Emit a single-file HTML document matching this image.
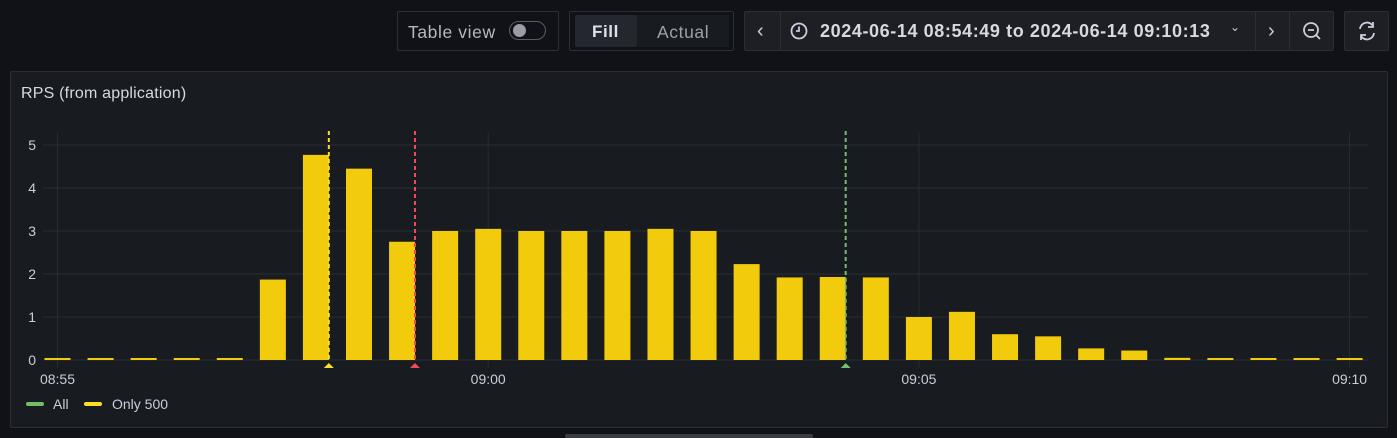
<!DOCTYPE html>
<html><head><meta charset="utf-8">
<style>
body{margin:0;width:1397px;height:437px;background:#111217;font-family:"Liberation Sans",sans-serif;overflow:hidden;position:relative;color:#ccccdc}
.box{position:absolute;border:1px solid #2c2e35;border-radius:2px;box-sizing:border-box}
.t{position:absolute;font-size:17px;white-space:nowrap;letter-spacing:0.6px}
</style></head><body>
<div class="box" style="left:397px;top:11px;width:162px;height:40px;background:#111217"></div>
<div class="t" style="left:408px;top:22px;color:#b5b7c2;font-size:17.5px">Table view</div>
<div style="position:absolute;left:509px;top:21px;width:37px;height:19px;border:1px solid #5a5d66;border-radius:10px;box-sizing:border-box"><div style="position:absolute;left:3px;top:2px;width:13px;height:13px;border-radius:7px;background:#9a9ca6"></div></div>
<div class="box" style="left:569px;top:11px;width:165px;height:40px;background:#111217"></div>
<div style="position:absolute;left:575px;top:15px;width:62px;height:32px;background:#25272e;border-radius:2px"></div>
<div class="t" style="left:592px;top:22px;color:#e0e1e8;font-weight:bold">Fill</div>
<div style="position:absolute;left:637px;top:15px;width:92px;height:32px;background:#181b1f"></div>
<div class="t" style="left:657px;top:22px;color:#9fa1ab;font-size:17.5px">Actual</div>
<div class="box" style="left:744px;top:11px;width:590px;height:40px;background:#1d1f25"></div>
<div style="position:absolute;left:780px;top:12px;width:1px;height:38px;background:#2c2e35"></div>
<div style="position:absolute;left:1255px;top:12px;width:1px;height:38px;background:#2c2e35"></div>
<div style="position:absolute;left:1289px;top:12px;width:1px;height:38px;background:#2c2e35"></div>
<div class="t" style="left:757px;top:20px;font-size:20px">‹</div>
<svg style="position:absolute;left:789px;top:21px" width="20" height="20"><circle cx="10" cy="10" r="7.5" fill="none" stroke="#ccccdc" stroke-width="1.8"/><path d="M10 5.5V10H7" fill="none" stroke="#ccccdc" stroke-width="1.8"/></svg>
<div class="t" style="left:820px;top:21px;color:#d8d9e0;font-weight:bold;font-size:18px;letter-spacing:0.6px">2024-06-14 08:54:49 to 2024-06-14 09:10:13</div>
<div class="t" style="left:1230px;top:20px;font-size:12px">⌄</div>
<div class="t" style="left:1268px;top:20px;font-size:20px">›</div>
<svg style="position:absolute;left:1301px;top:20px" width="22" height="22"><circle cx="10" cy="10" r="7" fill="none" stroke="#ccccdc" stroke-width="1.8"/><path d="M7 10h6M15 15l4 4" stroke="#ccccdc" stroke-width="1.8"/></svg>
<div class="box" style="left:1344px;top:11px;width:45px;height:40px;background:#1d1f25"></div>
<svg style="position:absolute;left:1356px;top:20px" width="22" height="22"><path d="M4 9a7 7 0 0 1 13-3M18 13a7 7 0 0 1-13 3" fill="none" stroke="#ccccdc" stroke-width="1.8"/><path d="M17 2v5h-5M5 20v-5h5" fill="none" stroke="#ccccdc" stroke-width="1.8"/></svg>
<div class="box" style="left:10px;top:71px;width:1378px;height:357px;background:#181b1f"></div>
<div class="t" style="left:21px;top:85px;color:#d8d9e0;font-size:16px;letter-spacing:0.2px">RPS (from application)</div>
<div style="position:absolute;left:565px;top:434px;width:248px;height:4px;background:#3a3c43;border-radius:2px"></div>
<svg id="chart" width="1397" height="437" style="position:absolute;left:0;top:0"></svg>
<script>
const yTicks=[0,1,2,3,4,5];
const xTickLabels=["08:55","09:00","09:05","09:10"];
const xTickIndex=[0,10,20,30];
const values=[0,0,0,0,0,1.87,4.77,4.45,2.75,3.0,3.05,3.0,3.0,3.0,3.05,3.0,2.23,1.92,1.93,1.92,1.0,1.12,0.6,0.55,0.27,0.22,0.05,0.01,0,0,0];
const annotations=[{i:6.3,c:"#fade2a"},{i:8.3,c:"#f2495c"},{i:18.3,c:"#73bf69"}];
const NS="http://www.w3.org/2000/svg",svg=document.getElementById('chart');
const x=i=>57.5+43.07*i, y=v=>360-43*v;
function el(t,a){const e=document.createElementNS(NS,t);for(const k in a)e.setAttribute(k,a[k]);svg.appendChild(e);return e;}
yTicks.forEach(v=>{const l=el('line',{x1:43,x2:1368,y1:y(v),y2:y(v),stroke:'#2a2c32'});

const t=el('text',{x:36,y:y(v)+5,'text-anchor':'end',fill:'#ccccdc','font-size':14,'font-family':'Liberation Sans'});t.textContent=v;
});
xTickIndex.forEach((ix,k)=>{const l=el('line',{x1:x(ix),x2:x(ix),y1:133,y2:368,stroke:'#2a2c32'});

const t=el('text',{x:x(ix),y:384,'text-anchor':'middle',fill:'#ccccdc','font-size':14,'font-family':'Liberation Sans'});t.textContent=xTickLabels[k];
});
values.forEach((v,i)=>{const h=Math.max(2,43*v);const r=el('rect',{x:x(i)-13,y:360-h,width:26,height:h,fill:'#f2cc0c'});
});
annotations.forEach(a=>{const l=el('line',{x1:x(a.i),x2:x(a.i),y1:131,y2:360,stroke:a.c,'stroke-width':2,'stroke-dasharray':'4,3'});

const p=el('polygon',{points:`${x(a.i)-5},368 ${x(a.i)+5},368 ${x(a.i)},363`,fill:a.c});
});
[[26,'#73bf69','All',53],[84,'#fade2a','Only 500',112]].forEach(([lx,c,txt,tx])=>{
const r=el('rect',{x:lx,y:402,width:18,height:4,rx:2,fill:c});
const t=el('text',{x:tx,y:409,fill:'#ccccdc','font-size':14,'font-family':'Liberation Sans'});t.textContent=txt;
});
</script>
</body></html>
